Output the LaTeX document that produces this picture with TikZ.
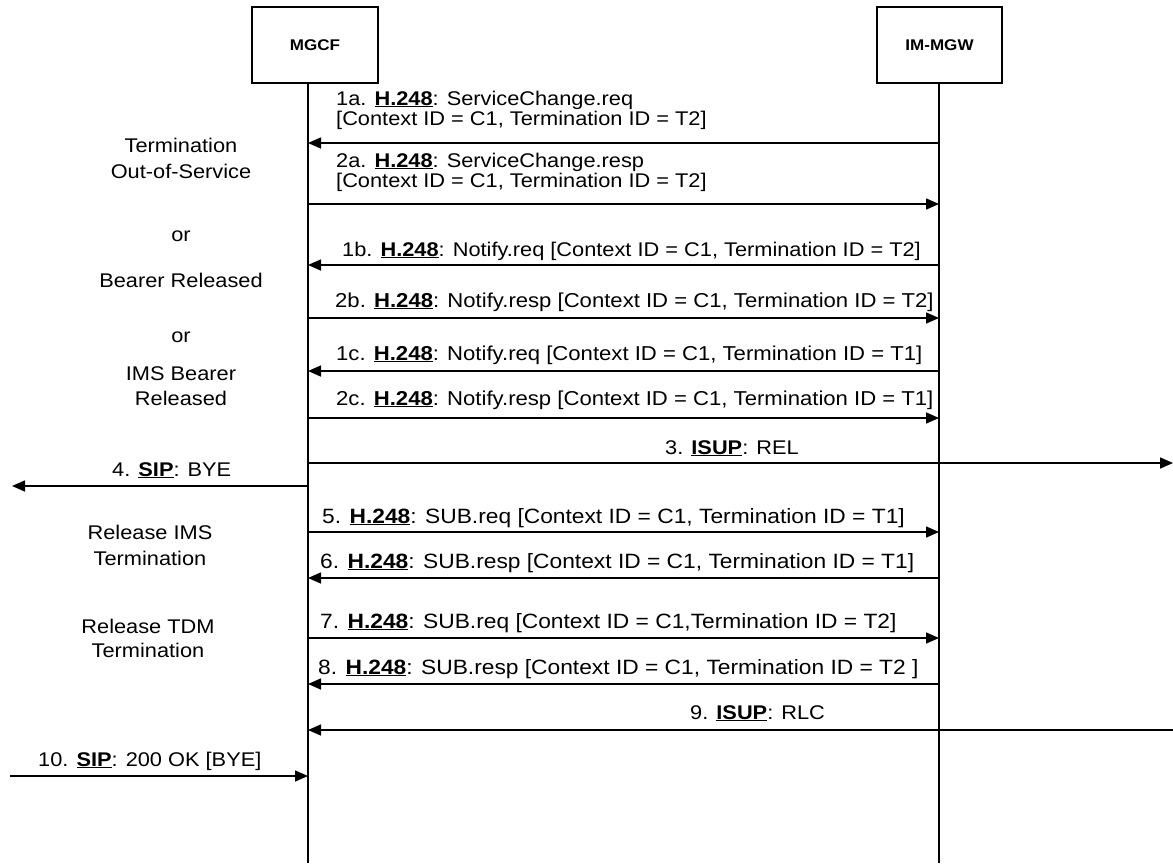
\documentclass[tikz,border=0pt]{standalone}
\usepackage{fontspec}
\setmainfont{Liberation Sans}[FakeStretch=1.1]
\usetikzlibrary{arrows.meta}
\newcommand\proto[1]{\underline{\textbf{#1}}}
\begin{document}
\begin{tikzpicture}[x=1pt,y=-1pt,
  lifeline/.style={line width=1.6pt},
  entity/.style={draw,line width=1.6pt,minimum width=126pt,minimum height=76pt,inner sep=0pt,font=\fontsize{15.5}{18}\selectfont\bfseries},
  msg/.style={line width=1.6pt,-{Triangle[length=13pt,width=11pt]}},
  lbl/.style={font=\fontsize{19.8}{22}\selectfont,inner sep=0pt,anchor=base west,text height=13pt,text depth=3pt},
  lblb/.style={lbl,font=\fontsize{20.1}{22}\selectfont},
  lblc/.style={lbl,font=\fontsize{20.7}{22}\selectfont},
  side/.style={font=\fontsize{19.8}{22}\selectfont,inner sep=0pt,anchor=base}]
\useasboundingbox[fill=white] (0,0) rectangle (1173,863);

% entities
\node[entity] (mgcf) at (315,45) {MGCF};
\node[entity,minimum width=125pt] (mgw) at (939.5,45) {IM-MGW};

% lifelines
\coordinate (mgcfTop) at (308,83);
\coordinate (mgcfBot) at (308,863);
\coordinate (mgwTop) at (939,83);
\coordinate (mgwBot) at (939,863);
\draw[lifeline] (mgcfTop) -- (mgcfBot);
\draw[lifeline] (mgwTop) -- (mgwBot);

% message anchor points
\foreach \n/\y in {1a/143,2a/204,1b/265,2b/318,1c/371,2c/418,3/463,4/486,5/532,6/578,7/638,8/684,9/730,10/776}{
  \coordinate (L\n) at (308,\y);
  \coordinate (R\n) at (939,\y);
}
\coordinate (E3) at (1173,463);
\coordinate (W4) at (12,486);
\coordinate (E9) at (1173,730);
\coordinate (W10) at (10,776);

% messages
\draw[msg] (R1a) -- (L1a);
\node[lbl] (t1a) at (336,105) {1a. \proto{H.248}: ServiceChange.req};
\node[lbl] (t1a2) at (336,125) {[Context ID = C1, Termination ID = T2]};

\draw[msg] (L2a) -- (R2a);
\node[lbl] (t2a) at (336,167) {2a. \proto{H.248}: ServiceChange.resp};
\node[lbl] (t2a2) at (336,187) {[Context ID = C1, Termination ID = T2]};

\draw[msg] (R1b) -- (L1b);
\node[lbl] (t1b) at (342,256) {1b. \proto{H.248}: Notify.req [Context ID = C1, Termination ID = T2]};

\draw[msg] (L2b) -- (R2b);
\node[lblb] (t2b) at (335,307) {2b. \proto{H.248}: Notify.resp [Context ID = C1, Termination ID = T2]};

\draw[msg] (R1c) -- (L1c);
\node[lblb] (t1c) at (336,360) {1c. \proto{H.248}: Notify.req [Context ID = C1, Termination ID = T1]};

\draw[msg] (L2c) -- (R2c);
\node[lblb] (t2c) at (336,405) {2c. \proto{H.248}: Notify.resp [Context ID = C1, Termination ID = T1]};

\draw[msg] (L3) -- (E3);
\node[lbl] (t3) at (665,454) {3. \proto{ISUP}: REL};

\draw[msg] (L4) -- (W4);
\node[lbl] (t4) at (112,476) {4. \proto{SIP}: BYE};

\draw[msg] (L5) -- (R5);
\node[lblc] (t5) at (322,523) {5. \proto{H.248}: SUB.req [Context ID = C1, Termination ID = T1]};

\draw[msg] (R6) -- (L6);
\node[lblc] (t6) at (320,568) {6. \proto{H.248}: SUB.resp [Context ID = C1, Termination ID = T1]};

\draw[msg] (L7) -- (R7);
\node[lblc] (t7) at (320,628) {7. \proto{H.248}: SUB.req [Context ID = C1,Termination ID = T2]};

\draw[msg] (R8) -- (L8);
\node[lblc] (t8) at (318,674) {8. \proto{H.248}: SUB.resp [Context ID = C1, Termination ID = T2 ]};

\draw[msg] (E9) -- (L9);
\node[lbl] (t9) at (690,719) {9. \proto{ISUP}: RLC};

\draw[msg] (W10) -- (L10);
\node[lbl] (t10) at (38,766) {10. \proto{SIP}: 200 OK [BYE]};

% side annotations
\node[side] (s1) at (181,152) {Termination};
\node[side] (s2) at (181,178) {Out-of-Service};
\node[side] (s3) at (181,241) {or};
\node[side] (s4) at (181,287) {Bearer Released};
\node[side] (s5) at (181,342) {or};
\node[side] (s6) at (181,380) {IMS Bearer};
\node[side] (s7) at (181,405) {Released};
\node[side] (s8) at (150,539) {Release IMS};
\node[side] (s9) at (150,565) {Termination};
\node[side] (s10) at (148,633) {Release TDM};
\node[side] (s11) at (148,657) {Termination};
\end{tikzpicture}
\end{document}
